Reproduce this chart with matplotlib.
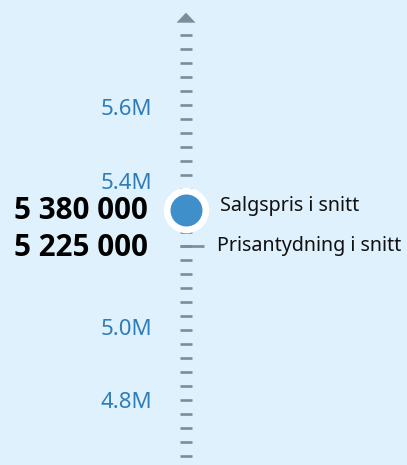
import numpy as np
import matplotlib
matplotlib.use('Agg')
import matplotlib.pyplot as plt
from matplotlib.patches import Polygon

# Data (values in millions NOK)
axis_values = [5.6, 5.4, 5.0, 4.8]
axis_labels = ['5.6M', '5.4M', '5.0M', '4.8M']
series_names = ['Salgspris i snitt', 'Prisantydning i snitt']
series_values = [5380000, 5225000]
# position of the marks
series_axis_pos = [5.327, 5.2278]

plt.rcParams['font.family'] = ['Noto Sans', 'DejaVu Sans']

BG = '#dff1fc'
TICK = '#7b8c9a'
BLUE_TXT = '#2f7db8'
BLUE_DOT = '#3f8fca'

fig = plt.figure(figsize=(4.07, 4.65), dpi=100, facecolor=BG)
ax = fig.add_axes([0, 0, 1, 1])
ax.set_facecolor(BG)
ax.set_xlim(0, 407)
ax.set_ylim(4.6307, 5.9003)
ax.axis('off')

# pixel -> value helper for layout only
px = 1 / 366.25
axis_x = 186

# decorative dashes along the axis
dash_y = np.linspace(5.8048, 4.6545, 31)
ax.hlines(dash_y, axis_x - 6, axis_x + 6, color=TICK, linewidth=1.9, zorder=2)

# arrow at the top
top = 5.8048 + 12.3 * px
ax.add_patch(Polygon([[axis_x - 9.5, top], [axis_x + 9.5, top], [axis_x, top + 10 * px]],
                     closed=True, color=TICK, linewidth=0, zorder=2))

# axis labels
for v, lab in zip(axis_values, axis_labels):
    ax.text(152, v, lab, ha='right', va='center', fontsize=16, color=BLUE_TXT)

# Salgspris: circle with white ring
ax.scatter([axis_x], [series_axis_pos[0]], s=1070, color='white', zorder=3, linewidth=0)
ax.scatter([axis_x], [series_axis_pos[0]], s=530, color=BLUE_DOT, zorder=4, linewidth=0)
ax.text(220, series_axis_pos[0] + 4 * px, series_names[0], ha='left', va='center',
        fontsize=14.2, color='#111111')

# Prisantydning: wider dash
ax.hlines([series_axis_pos[1]], axis_x - 6, axis_x + 18, color=TICK, linewidth=1.9, zorder=3)
ax.text(217, series_axis_pos[1], series_names[1], ha='left', va='center',
        fontsize=14.2, color='#111111')

# big value labels
for v, pos in zip(series_values, series_axis_pos):
    txt = f'{v:,}'.replace(',', ' ')
    ax.text(148, pos - 1.5 * px, txt, ha='right', va='center', fontsize=21.3,
            fontweight='bold', family=['Open Sans', 'DejaVu Sans'], color='#000000')

fig.savefig('out.png', dpi=100, facecolor=BG)
